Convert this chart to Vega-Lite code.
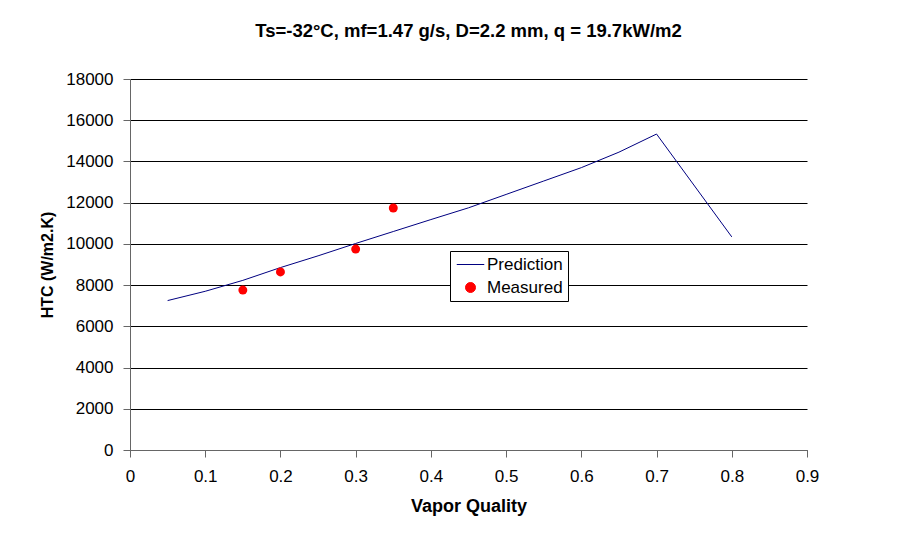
{
  "$schema": "https://vega.github.io/schema/vega-lite/v6.json",
  "autosize": "none",
  "width": 677,
  "height": 371,
  "padding": {"left": 130, "top": 79, "right": 102, "bottom": 85},
  "background": "white",
  "title": {
    "text": "Ts=-32°C, mf=1.47 g/s, D=2.2 mm, q = 19.7kW/m2",
    "font": "Liberation Sans",
    "fontSize": 18.5,
    "fontWeight": "bold",
    "color": "black",
    "anchor": "middle",
    "offset": 30
  },
  "config": {
    "view": {"stroke": null},
    "axis": {
      "labelFont": "Liberation Sans",
      "titleFont": "Liberation Sans",
      "labelColor": "black",
      "titleColor": "black",
      "domainColor": "#666666",
      "tickColor": "#666666",
      "labelFontSize": 17,
      "titleFontWeight": "bold"
    },
    "legend": {"labelFont": "Liberation Sans"}
  },
  "datasets": {
    "pred": [
      {"x": 0.05, "htc": 7250, "series": "Prediction"},
      {"x": 0.1, "htc": 7700, "series": "Prediction"},
      {"x": 0.15, "htc": 8230, "series": "Prediction"},
      {"x": 0.2, "htc": 8850, "series": "Prediction"},
      {"x": 0.25, "htc": 9420, "series": "Prediction"},
      {"x": 0.3, "htc": 10020, "series": "Prediction"},
      {"x": 0.35, "htc": 10600, "series": "Prediction"},
      {"x": 0.4, "htc": 11180, "series": "Prediction"},
      {"x": 0.45, "htc": 11750, "series": "Prediction"},
      {"x": 0.5, "htc": 12400, "series": "Prediction"},
      {"x": 0.55, "htc": 13050, "series": "Prediction"},
      {"x": 0.6, "htc": 13700, "series": "Prediction"},
      {"x": 0.65, "htc": 14450, "series": "Prediction"},
      {"x": 0.7, "htc": 15330, "series": "Prediction"},
      {"x": 0.8, "htc": 10340, "series": "Prediction"}
    ],
    "meas": [
      {"x": 0.15, "htc": 7760, "series": "Measured"},
      {"x": 0.2, "htc": 8640, "series": "Measured"},
      {"x": 0.3, "htc": 9750, "series": "Measured"},
      {"x": 0.35, "htc": 11740, "series": "Measured"}
    ]
  },
  "encoding": {
    "x": {
      "field": "x",
      "type": "quantitative",
      "scale": {"domain": [0, 0.9], "nice": false},
      "axis": {
        "title": "Vapor Quality",
        "titleFontSize": 18,
        "values": [0, 0.1, 0.2, 0.3, 0.4, 0.5, 0.6, 0.7, 0.8, 0.9],
        "format": "~g",
        "grid": false,
        "tickSize": 7,
        "labelPadding": 11,
        "titlePadding": 13,
        "labelFlush": false
      }
    },
    "y": {
      "field": "htc",
      "type": "quantitative",
      "scale": {"domain": [0, 18000], "nice": false},
      "axis": {
        "title": "HTC (W/m2.K)",
        "titleFontSize": 16,
        "values": [0, 2000, 4000, 6000, 8000, 10000, 12000, 14000, 16000, 18000],
        "format": "d",
        "grid": true,
        "gridColor": "black",
        "gridOpacity": 1,
        "gridWidth": 1,
        "tickSize": 7,
        "labelPadding": 10,
        "titlePadding": 10,
        "labelFlush": false
      }
    },
    "color": {
      "field": "series",
      "type": "nominal",
      "scale": {"domain": ["Prediction", "Measured"], "range": ["#000080", "#ff0000"]},
      "legend": {
        "title": null,
        "orient": "none",
        "legendX": 320,
        "legendY": 172,
        "fillColor": "white",
        "strokeColor": "black",
        "padding": 5,
        "labelFontSize": 17,
        "labelColor": "black",
        "symbolOffset": 7,
        "labelOffset": 8,
        "rowPadding": 5,
        "symbolSize": 100,
        "symbolStrokeWidth": 1
      }
    }
  },
  "layer": [
    {
      "data": {"name": "pred"},
      "mark": {"type": "line", "strokeWidth": 1}
    },
    {
      "data": {"name": "meas"},
      "mark": {"type": "point", "filled": true, "size": 80, "opacity": 1},
      "encoding": {
        "shape": {
          "field": "series",
          "type": "nominal",
          "scale": {"domain": ["Prediction", "Measured"], "range": ["M-2.75,0H2.75", "circle"]},
          "legend": {
            "title": null,
            "orient": "none",
            "legendX": 320,
            "legendY": 172
          }
        }
      }
    }
  ]
}
